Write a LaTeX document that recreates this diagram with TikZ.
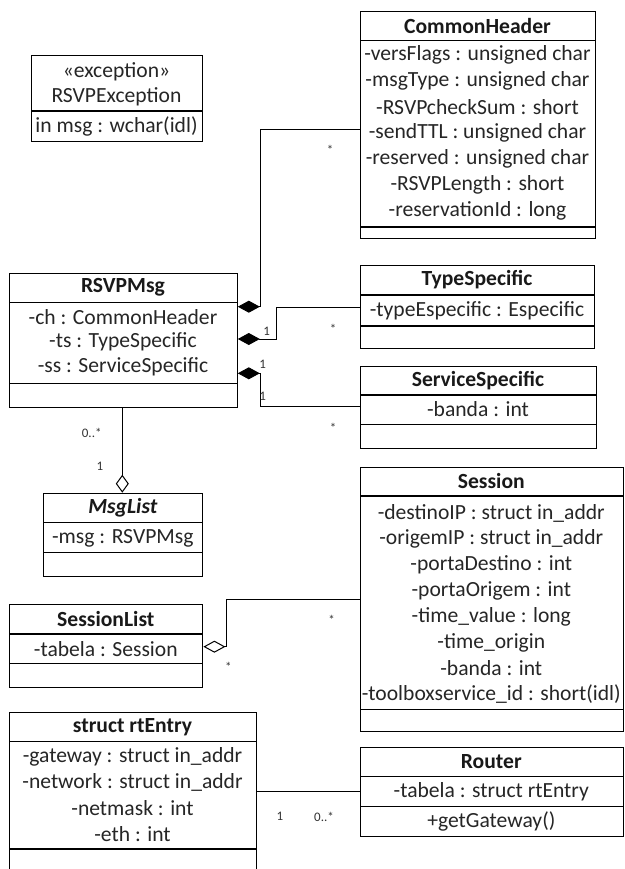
\documentclass[tikz,border=0pt]{standalone}
\usepackage{fontspec}
\setmainfont{Carlito}
\usetikzlibrary{arrows.meta}
\begin{document}
\begin{tikzpicture}[x=1pt,y=-1pt,
  cls/.style={draw, line width=1.1pt, rectangle, inner sep=0pt, anchor=north west},
  divl/.style={line width=1.1pt},
  txt/.style={inner sep=0pt, font=\fontsize{21.6}{24}\selectfont, text=black!85},
  ttl/.style={inner sep=0pt, font=\fontsize{21.6}{24}\selectfont\bfseries, text=black!90},
  mult/.style={inner sep=0pt, font=\fontsize{13}{14}\selectfont, text=black!80},
  conn/.style={line width=1pt},
  comp/.style={-{Diamond[length=22pt,width=12pt]}},
  aggr/.style={-{Diamond[open,length=22pt,width=12pt]}},
  aggrv/.style={-{Diamond[open,length=18pt,width=13pt]}},
]
\useasboundingbox (0,0) rectangle (624,869);
\fill[white] (0,0) rectangle (624,869);
\clip (0,0) rectangle (624,869);

% RSVPException
\node[cls, minimum width=171pt, minimum height=85.7pt] (ex) at (31,55) {};
\draw[divl] (31,111) -- (202,111);
\node[txt] (ex-s) at (116.5,72) {«exception»};
\node[txt] (ex-t) at (116.5,97) {RSVPException};
\node[txt] (ex-a) at (116.5,126) {in msg : wchar(idl)};

% CommonHeader
\node[cls, minimum width=235pt, minimum height=227.3pt] (ch) at (360,10.7) {};
\draw[divl] (360,40.7) -- (595,40.7);
\draw[divl] (360,227) -- (595,227);
\node[ttl] (ch-t) at (477.5,25.7) {CommonHeader};
\node[txt] (ch-1) at (477.5,55) {-versFlags : unsigned char};
\node[txt] (ch-2) at (477.5,81) {-msgType : unsigned char};
\node[txt] (ch-3) at (477.5,107) {-RSVPcheckSum : short};
\node[txt] (ch-4) at (477.5,133) {-sendTTL : unsigned char};
\node[txt] (ch-5) at (477.5,159) {-reserved : unsigned char};
\node[txt] (ch-6) at (477.5,185) {-RSVPLength : short};
\node[txt] (ch-7) at (477.5,211) {-reservationId : long};

% RSVPMsg
\node[cls, minimum width=227.4pt, minimum height=134pt] (rm) at (9.3,272.7) {};
\draw[divl] (9.3,302.3) -- (236.7,302.3);
\draw[divl] (9.3,383.3) -- (236.7,383.3);
\node[ttl] (rm-t) at (123,287.5) {RSVPMsg};
\node[txt] (rm-1) at (123,317) {-ch : CommonHeader};
\node[txt] (rm-2) at (123,342) {-ts : TypeSpecific};
\node[txt] (rm-3) at (123,367) {-ss : ServiceSpecific};

% TypeSpecific
\node[cls, minimum width=234pt, minimum height=83.3pt] (ts) at (360,265) {};
\draw[divl] (360,295) -- (594,295);
\draw[divl] (360,326) -- (594,326);
\node[ttl] (ts-t) at (477,280) {TypeSpecific};
\node[txt] (ts-1) at (477,311) {-typeEspecific : Especific};

% ServiceSpecific
\node[cls, minimum width=236pt, minimum height=82.3pt] (ss) at (360,366) {};
\draw[divl] (360,395) -- (596,395);
\draw[divl] (360,424.3) -- (596,424.3);
\node[ttl] (ss-t) at (478,380.5) {ServiceSpecific};
\node[txt] (ss-1) at (478,409.5) {-banda : int};

% MsgList
\node[cls, minimum width=159pt, minimum height=83pt] (ml) at (43.3,492.7) {};
\draw[divl] (43.3,522.7) -- (202.3,522.7);
\draw[divl] (43.3,552.7) -- (202.3,552.7);
\node[ttl, font=\fontsize{21.6}{24}\selectfont\bfseries\itshape] (ml-t) at (122.8,507.7) {MsgList};
\node[txt] (ml-1) at (122.8,538) {-msg : RSVPMsg};

% SessionList
\node[cls, minimum width=193pt, minimum height=82.4pt] (sl) at (9.3,604.3) {};
\draw[divl] (9.3,634) -- (202.3,634);
\draw[divl] (9.3,663.3) -- (202.3,663.3);
\node[ttl] (sl-t) at (105.8,619) {SessionList};
\node[txt] (sl-1) at (105.8,649) {-tabela : Session};

% Session
\node[cls, minimum width=262.5pt, minimum height=264pt] (se) at (360,466.7) {};
\draw[divl] (360,496) -- (622.5,496);
\draw[divl] (360,709.3) -- (622.5,709.3);
\node[ttl] (se-t) at (491.3,481) {Session};
\node[txt] (se-1) at (491.3,513) {-destinoIP : struct in\_addr};
\node[txt] (se-2) at (491.3,539) {-origemIP : struct in\_addr};
\node[txt] (se-3) at (491.3,565) {-portaDestino : int};
\node[txt] (se-4) at (491.3,591) {-portaOrigem : int};
\node[txt] (se-5) at (491.3,616.6) {-time\_value : long};
\node[txt] (se-6) at (491.3,642.5) {-time\_origin};
\node[txt] (se-7) at (491.3,668.4) {-banda : int};
\node[txt] (se-8) at (491.3,694.3) {-toolboxservice\_id : short(idl)};

% Router
\node[cls, minimum width=262.5pt, minimum height=88.7pt] (ro) at (360,747.3) {};
\draw[divl] (360,776.7) -- (622.5,776.7);
\draw[divl] (360,806.7) -- (622.5,806.7);
\node[ttl] (ro-t) at (491.3,762) {Router};
\node[txt] (ro-1) at (491.3,791.7) {-tabela : struct rtEntry};
\node[txt] (ro-2) at (491.3,821.5) {+getGateway()};

% struct rtEntry
\node[cls, minimum width=246.4pt, minimum height=170pt] (re) at (9.3,711.7) {};
\draw[divl] (9.3,741.7) -- (255.7,741.7);
\draw[divl] (9.3,849) -- (255.7,849);
\node[ttl] (re-t) at (132.5,726.7) {struct rtEntry};
\node[txt] (re-1) at (132.5,756.7) {-gateway : struct in\_addr};
\node[txt] (re-2) at (132.5,782.7) {-network : struct in\_addr};
\node[txt] (re-3) at (132.5,808.3) {-netmask : int};
\node[txt] (re-4) at (132.5,834) {-eth : int};

% connectors
\draw[conn,comp] (ch.west |- 0,130) -- (260,130) -- (260,306.7) -- (rm.east |- 0,306.7);
\draw[conn,comp] (ts.west |- 0,307.7) -- (276.7,307.7) -- (276.7,339) -- (rm.east |- 0,339);
\draw[conn,comp] (ss.west |- 0,406.5) -- (260,406.5) -- (260,373.3) -- (rm.east |- 0,373.3);
\draw[conn,aggrv] (rm.south -| 122.3,0) -- (ml.north -| 122.3,0);
\draw[conn,aggr] (se.west |- 0,599.3) -- (226.7,599.3) -- (226.7,646.7) -- (sl.east |- 0,646.7);
\draw[conn] (re.east |- 0,791.7) -- (ro.west |- 0,791.7);

% multiplicities
\node[mult] (m1) at (330,150) {*};
\node[mult] (m2) at (266.7,331) {1};
\node[mult] (m3) at (333,329) {*};
\node[mult] (m4) at (262.7,364) {1};
\node[mult] (m5) at (262.7,396.7) {1};
\node[mult] (m6) at (333,428) {*};
\node[mult] (m7) at (91.7,433.3) {0..*};
\node[mult] (m8) at (100,466.7) {1};
\node[mult] (m9) at (331.7,620) {*};
\node[mult] (m10) at (228.3,667) {*};
\node[mult] (m11) at (280,816.7) {1};
\node[mult] (m12) at (324,816.7) {0..*};
\end{tikzpicture}
\end{document}
